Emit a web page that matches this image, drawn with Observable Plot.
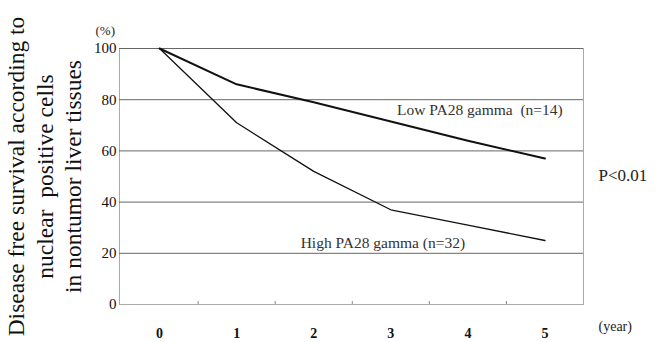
<!DOCTYPE html>
<html><head><meta charset="utf-8">
<script src="https://cdn.jsdelivr.net/npm/d3@7"></script>
<script src="https://cdn.jsdelivr.net/npm/@observablehq/plot@0.6"></script>
<style>body{margin:0;background:#fff} #chart svg{display:block;background:#fff} #chart text{white-space:pre}</style>
</head><body><div id="chart"></div>
<script>
const years = [0, 1, 2, 3, 4, 5];
const lowSurvival = [100, 86, 79, 71.5, 64, 57];
const highSurvival = [100, 71, 52, 37, 31, 25];
const yTicks = [0, 20, 40, 60, 80, 100];
const gridValues = [20, 40, 60, 80, 100];
const halfYears = [0.5, 1.5, 2.5, 3.5, 4.5];
const seriesLabels = ["Low PA28 gamma  (n=14)", "High PA28 gamma (n=32)"];
const labelX = [3.08, 1.83];
const labelY = [76, 24];
const yTitle = ["Disease free survival according to", "nuclear  positive cells", "in nontumor liver tissues"];
const yUnit = "(%)";
const xUnit = "(year)";
const pText = "P<0.01";

const low = years.map((x, i) => ({x, y: lowSurvival[i]}));
const high = years.map((x, i) => ({x, y: highSurvival[i]}));
const labels = seriesLabels.map((t, i) => ({t, x: labelX[i], y: labelY[i]}));
const serif = "'Liberation Serif', 'Times New Roman', serif";

const chart = Plot.plot({
  width: 656, height: 342,
  marginLeft: 119, marginRight: 73, marginTop: 48, marginBottom: 38,
  style: {fontFamily: serif, background: "#fff", color: "#111"},
  x: {domain: [-0.52, 5.5]},
  y: {domain: [0, 100]},
  marks: [
    Plot.frame({stroke: "#aaa"}),
    Plot.ruleY(gridValues, {stroke: "#666", strokeWidth: 1}),
    Plot.tickX(halfYears, {x: d => d, stroke: "#888", insetTop: 253}),
    Plot.axisY({ticks: yTicks, tickSize: 0, tickPadding: 3, fontSize: 15, label: null}),
    Plot.axisX({ticks: years, tickFormat: "d", tickSize: 0, tickPadding: 24, fontSize: 14, fontWeight: "bold", label: null}),
    Plot.line(high, {x: "x", y: "y", stroke: "#111", strokeWidth: 1.3}),
    Plot.line(low, {x: "x", y: "y", stroke: "#111", strokeWidth: 2}),
    Plot.text(labels, {x: "x", y: "y", text: "t", textAnchor: "start", fontSize: 15.5, fill: "#333"}),
    Plot.text([pText], {frameAnchor: "right", dx: 15, dy: -1, textAnchor: "start", fontSize: 17, fill: "#222"}),
    Plot.text([xUnit], {frameAnchor: "bottom-right", dx: 15, dy: 26, textAnchor: "start", fontSize: 14, fill: "#222"}),
    Plot.text([yUnit], {frameAnchor: "top-left", dx: -24, dy: -23, fontSize: 13, fill: "#222"}),
    Plot.text([yTitle.join("\n")], {frameAnchor: "left", dx: -76, dy: 0, rotate: -90, textAnchor: "middle", lineAnchor: "middle", fontSize: 23.5, lineHeight: 1.22, fill: "#111"})
  ]
});
document.getElementById("chart").append(chart);
</script>
</body></html>
